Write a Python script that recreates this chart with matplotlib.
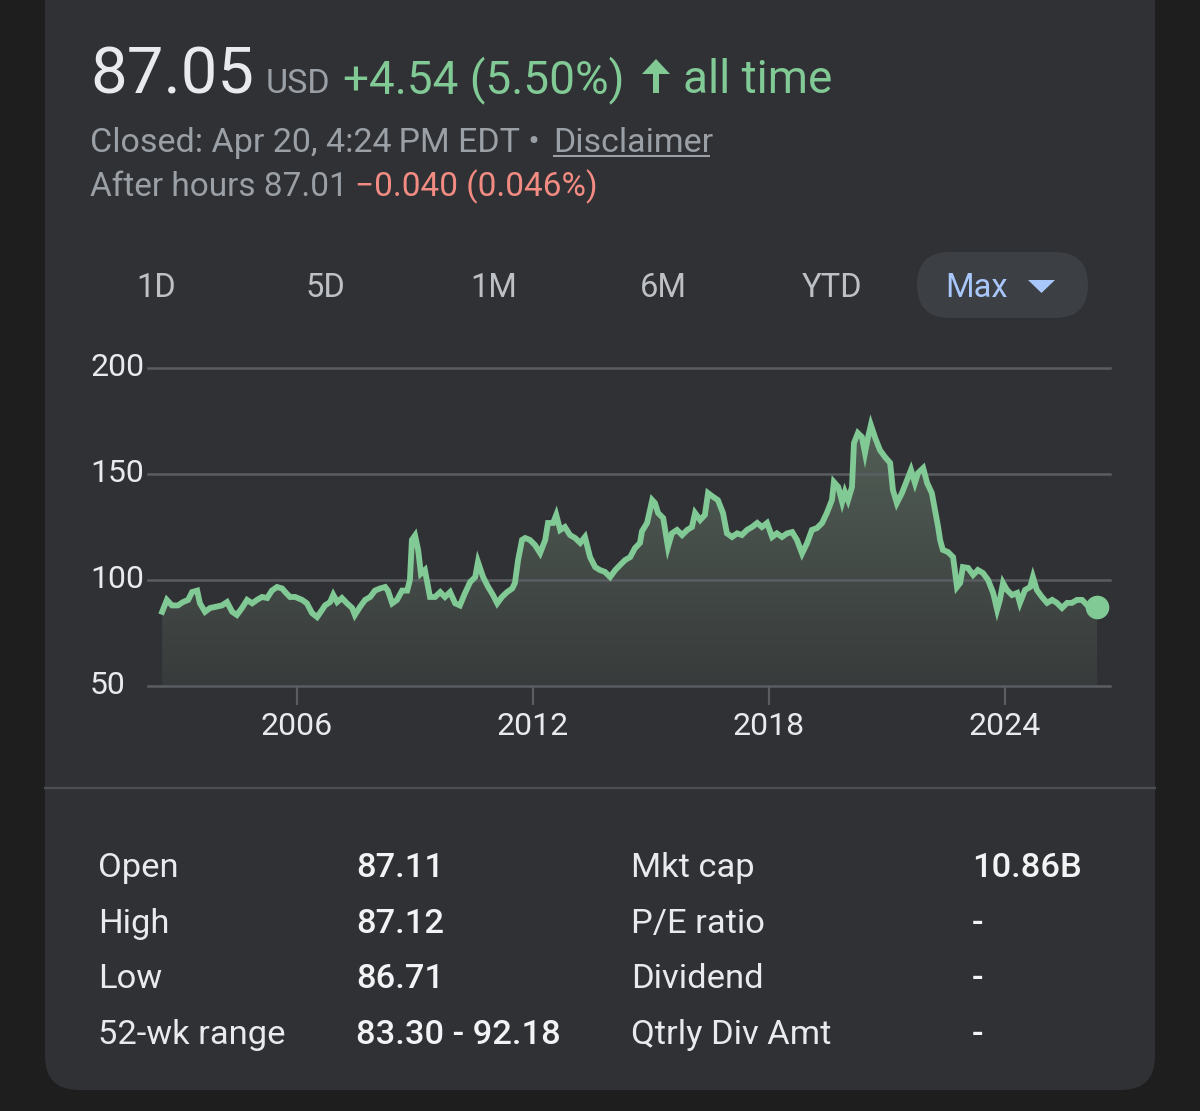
import matplotlib
matplotlib.use('Agg')
import matplotlib.pyplot as plt
import matplotlib.transforms as mtransforms
from matplotlib.patches import FancyBboxPatch, Polygon
from matplotlib.colors import LinearSegmentedColormap
import numpy as np

plt.rcParams['font.family'] = ['Roboto', 'DejaVu Sans']

# ---------------- data ----------------
years = [2002.57, 2002.69, 2002.82, 2002.97, 2003.10, 2003.23, 2003.33, 2003.46, 2003.53, 2003.66,
         2003.79, 2003.92, 2004.09, 2004.22, 2004.35, 2004.47, 2004.60, 2004.73, 2004.86, 2004.98,
         2005.11, 2005.24, 2005.36, 2005.49, 2005.62, 2005.70, 2005.82, 2005.95, 2006.13, 2006.25,
         2006.38, 2006.51, 2006.64, 2006.71, 2006.84, 2006.92, 2007.02, 2007.14, 2007.27, 2007.40,
         2007.47, 2007.60, 2007.73, 2007.86, 2007.98, 2008.11, 2008.24, 2008.31, 2008.42, 2008.54,
         2008.67, 2008.80, 2008.87, 2008.92, 2009.00, 2009.08, 2009.15, 2009.25, 2009.38, 2009.51,
         2009.64, 2009.76, 2009.89, 2010.02, 2010.14, 2010.27, 2010.40, 2010.53, 2010.60, 2010.73,
         2010.86, 2010.98, 2011.09, 2011.21, 2011.34, 2011.47, 2011.54, 2011.62, 2011.72, 2011.80,
         2011.92, 2012.05, 2012.18, 2012.31, 2012.38, 2012.51, 2012.59, 2012.69, 2012.81, 2012.94,
         2013.07, 2013.20, 2013.32, 2013.45, 2013.58, 2013.70, 2013.83, 2013.96, 2014.09, 2014.21,
         2014.34, 2014.47, 2014.59, 2014.72, 2014.77, 2014.90, 2015.03, 2015.10, 2015.18, 2015.31,
         2015.43, 2015.53, 2015.66, 2015.79, 2015.92, 2016.04, 2016.12, 2016.25, 2016.37, 2016.45,
         2016.58, 2016.70, 2016.83, 2016.93, 2017.06, 2017.19, 2017.31, 2017.44, 2017.57, 2017.70,
         2017.82, 2017.95, 2018.08, 2018.20, 2018.33, 2018.46, 2018.59, 2018.71, 2018.84, 2018.97,
         2019.09, 2019.22, 2019.35, 2019.47, 2019.60, 2019.65, 2019.76, 2019.86, 2019.93, 2020.01,
         2020.11, 2020.16, 2020.26, 2020.36, 2020.44, 2020.52, 2020.59, 2020.70, 2020.82, 2020.95,
         2021.08, 2021.15, 2021.25, 2021.38, 2021.51, 2021.61, 2021.71, 2021.79, 2021.92, 2022.02,
         2022.14, 2022.22, 2022.30, 2022.35, 2022.42, 2022.55, 2022.68, 2022.78, 2022.86, 2022.93,
         2023.06, 2023.19, 2023.31, 2023.44, 2023.57, 2023.70, 2023.80, 2023.87, 2023.95, 2024.05,
         2024.18, 2024.31, 2024.38, 2024.51, 2024.64, 2024.71, 2024.81, 2024.94, 2025.07, 2025.20,
         2025.32, 2025.45, 2025.58, 2025.70, 2025.83, 2025.96, 2026.09, 2026.21, 2026.34]
prices = [85.0, 90.6, 88.0, 88.0, 89.6, 90.6, 94.3, 95.0, 89.0, 85.0,
          86.8, 87.3, 88.0, 89.6, 85.0, 83.5, 86.8, 90.6, 89.0, 90.6,
          92.0, 91.5, 95.0, 96.7, 96.0, 94.3, 92.0, 92.0, 90.6, 89.0,
          84.4, 82.5, 86.0, 88.0, 89.6, 93.0, 89.6, 91.5, 89.0, 86.8,
          83.5, 87.3, 90.6, 92.0, 95.0, 96.0, 96.7, 95.0, 89.0, 90.6,
          95.0, 95.0, 100.0, 118.9, 121.0, 114.0, 103.0, 104.7, 92.0, 92.0,
          94.3, 92.0, 94.3, 89.0, 88.0, 93.8, 99.0, 101.4, 108.5, 101.4,
          96.7, 93.0, 89.0, 92.0, 94.3, 96.0, 98.6, 109.4, 118.9, 119.8,
          118.9, 116.5, 112.7, 118.9, 126.9, 126.9, 130.7, 123.6, 125.0, 121.2,
          119.8, 117.5, 120.3, 110.8, 106.1, 104.7, 103.8, 101.4, 104.7, 107.0,
          109.4, 110.8, 115.0, 117.5, 123.0, 126.9, 137.7, 136.3, 131.6, 129.2,
          115.6, 122.0, 123.6, 121.2, 123.6, 125.0, 131.6, 128.3, 130.7, 141.0,
          139.2, 137.7, 131.6, 122.0, 120.3, 122.0, 121.2, 123.6, 125.0, 126.9,
          125.0, 126.9, 120.3, 122.0, 120.3, 122.0, 122.6, 118.9, 112.5, 117.5,
          123.6, 124.5, 126.9, 131.6, 137.7, 146.2, 143.9, 136.8, 141.5, 137.7,
          143.9, 164.6, 169.3, 167.5, 159.9, 167.5, 173.1, 167.0, 161.3, 158.0,
          155.2, 142.5, 136.3, 141.0, 147.2, 151.9, 145.8, 150.5, 152.8, 145.8,
          141.0, 133.0, 125.0, 118.9, 114.2, 113.2, 110.8, 96.7, 98.6, 106.1,
          105.7, 102.4, 104.7, 103.3, 100.0, 93.9, 86.0, 90.6, 98.6, 95.3,
          92.9, 93.9, 89.2, 95.3, 96.7, 101.4, 95.3, 92.0, 89.2, 90.6,
          89.2, 86.8, 89.2, 89.2, 90.6, 90.6, 88.1, 86.5, 87.05]

y_ticks = [50, 100, 150, 200]
x_ticks = [2006, 2012, 2018, 2024]
tabs = ['1D', '5D', '1M', '6M', 'YTD']
selected_tab = 'Max'

price_text = '87.05'
currency = 'USD'
change_text = '+4.54 (5.50%)'
period_text = 'all time'
closed_text = 'Closed: Apr 20, 4:24\u2009PM EDT \u2022'
disclaimer_text = 'Disclaimer'
after_text = 'After hours 87.01'
after_change = '\u22120.040 (0.046%)'

stat_labels_left = ['Open', 'High', 'Low', '52-wk range']
stat_values_left = ['87.11', '87.12', '86.71', '83.30 - 92.18']
stat_labels_right = ['Mkt cap', 'P/E ratio', 'Dividend', 'Qtrly Div Amt']
stat_values_right = ['10.86B', '-', '-', '-']

# ---------------- style ----------------
OUTER = '#1e1e1f'
CARD = '#303134'
GRID = '#5a5d61'
GREEN = '#81c995'
GREY = '#9aa0a6'
LIGHT = '#e8eaed'
RED = '#f28b82'
BLUE = '#a8c7fa'
PILL = '#3c3f43'

W, H = 1200, 1111
fig = plt.figure(figsize=(W / 100, H / 100), dpi=100)
fig.patch.set_facecolor(OUTER)

bg = fig.add_axes([0, 0, 1, 1])
bg.set_xlim(0, W)
bg.set_ylim(H, 0)
bg.axis('off')
bg.add_patch(FancyBboxPatch((45, -80), 1110, 1170,
                            boxstyle='round,pad=0,rounding_size=34',
                            fc=CARD, ec='none'))

# header
bg.text(90, 93, price_text, fontsize=47, color=LIGHT, va='baseline')
bg.text(266, 93, currency, fontsize=24.5, color=GREY, va='baseline')
bg.text(343, 93, change_text, fontsize=33, color=GREEN, va='baseline')
bg.add_patch(Polygon([(653, 93), (659, 93), (659, 74), (670, 74), (656, 59),
                      (642, 74), (653, 74)], closed=True, fc=GREEN, ec='none'))
bg.text(683, 93, period_text, fontsize=33, color=GREEN, va='baseline')

bg.text(90, 152, closed_text, fontsize=24.5, color=GREY, va='baseline')
bg.text(553, 152, disclaimer_text, fontsize=24.5, color=GREY, va='baseline')
bg.plot([553, 710], [156, 156], color=GREY, lw=1.5, solid_capstyle='butt')
bg.text(90, 196, after_text, fontsize=24, color=GREY, va='baseline')
bg.text(355, 196, after_change, fontsize=24, color=RED, va='baseline')

# range tabs
tab_centers = [156, 325, 494, 663, 832]
for t, cx in zip(tabs, tab_centers):
    bg.text(cx, 297, t, fontsize=23.5, color='#bdc1c6', ha='center', va='baseline')
bg.add_patch(FancyBboxPatch((917, 252), 171, 66,
                            boxstyle='round,pad=0,rounding_size=33',
                            fc=PILL, ec='none'))
bg.text(945, 297, selected_tab, fontsize=23.5, color=BLUE, va='baseline')
bg.add_patch(Polygon([(1028, 280), (1055, 280), (1041.5, 293)], closed=True,
                     fc=BLUE, ec='none'))

# separator
bg.plot([45, 1155], [788, 788], color='#4a4d51', lw=1.6)

# stats table
row_base = [877, 933, 988, 1044]
for lab, val, lab2, val2, yb in zip(stat_labels_left, stat_values_left,
                                    stat_labels_right, stat_values_right, row_base):
    bg.text(98, yb, lab, fontsize=24.8, color=LIGHT, va='baseline')
    bg.text(356, yb, val, fontsize=24.8, color='#f1f3f4', va='baseline', fontweight='medium')
    bg.text(631, yb, lab2, fontsize=24.8, color=LIGHT, va='baseline')
    bg.text(972, yb, val2, fontsize=24.8, color='#f1f3f4', va='baseline', fontweight='medium')

# ---------------- chart ----------------
ax = fig.add_axes([148 / W, (H - 686) / H, (1110 - 148) / W, (686 - 368) / H])
ax.set_facecolor('none')
for s in ax.spines.values():
    s.set_visible(False)

verts = [(years[0], y_ticks[0])] + list(zip(years, prices)) + [(years[-1], y_ticks[0])]
poly = Polygon(verts, closed=True, fc='none', ec='none', transform=ax.transData)
ax.add_patch(poly)
cmap = LinearSegmentedColormap.from_list('fillgrad', ['#383b3b', '#536057'])
grad = np.linspace(0, 1, 256).reshape(-1, 1)
im = ax.imshow(grad, extent=[years[0], years[-1], y_ticks[0], 180], origin='lower',
               aspect='auto', cmap=cmap, zorder=1, interpolation='bilinear')
im.set_clip_path(poly)

for v in y_ticks:
    ax.axhline(v, color=GRID, lw=1.8, zorder=2, clip_on=False)

ax.plot(years, prices, color=GREEN, lw=4.2, zorder=3, solid_joinstyle='miter')
ax.plot([years[-1]], [prices[-1]], 'o', ms=16, color=GREEN, zorder=4, clip_on=False)

ax.set_xlim(2002.21, 2026.67)
ax.set_ylim(50, 200)
ax.set_yticks([])
ax.set_xticks(x_ticks)
ax.set_xticklabels([str(t) for t in x_ticks])
ax.tick_params(axis='x', length=14, width=1.6, color=GRID, pad=5,
               labelsize=23, labelcolor=LIGHT)

ytrans = mtransforms.blended_transform_factory(bg.transData, ax.transData)
for v in y_ticks:
    ax.text(90, v, str(v), transform=ytrans, fontsize=23, color=LIGHT,
            ha='left', va='center')

fig.savefig('out.png', dpi=100, facecolor=fig.get_facecolor())
